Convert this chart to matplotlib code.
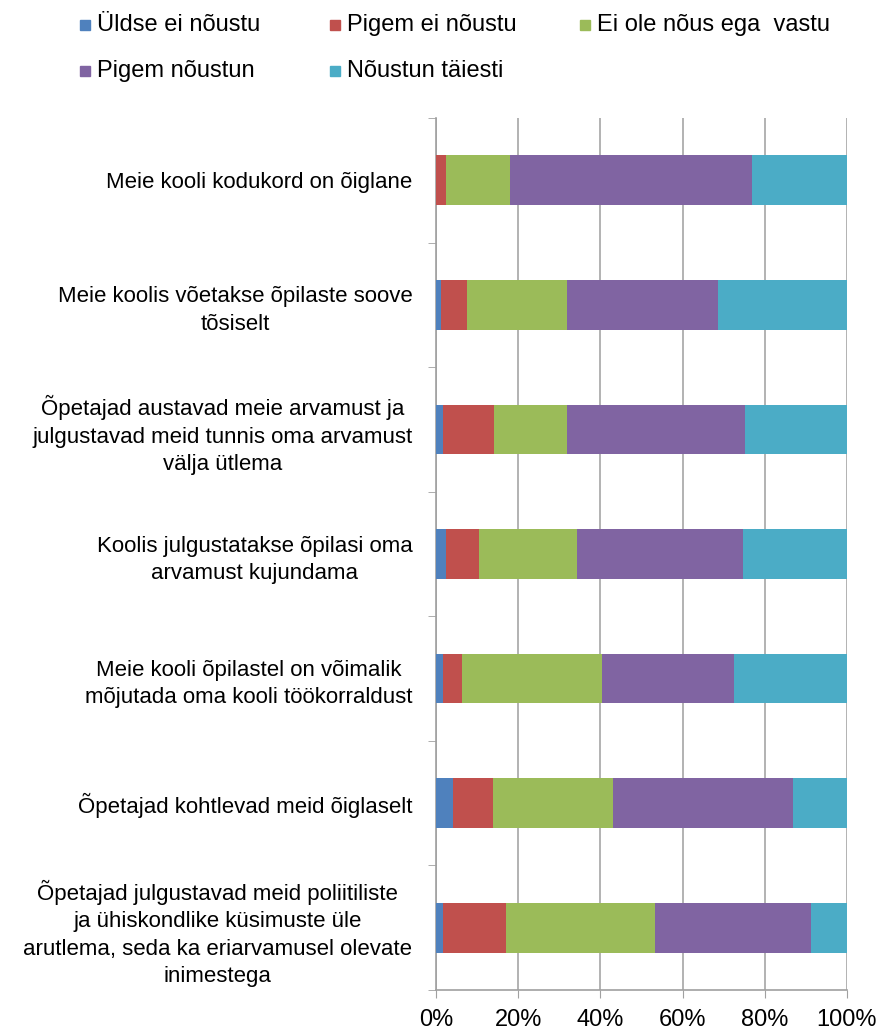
import matplotlib.pyplot as plt
from matplotlib.patches import Rectangle
import numpy as np

plt.rcParams['font.family'] = ['Liberation Sans', 'DejaVu Sans']

statements = [
    "Meie kooli kodukord on õiglane",
    "Meie koolis võetakse õpilaste soove\ntõsiselt",
    "Õpetajad austavad meie arvamust ja\njulgustavad meid tunnis oma arvamust\nvälja ütlema",
    "Koolis julgustatakse õpilasi oma\narvamust kujundama",
    "Meie kooli õpilastel on võimalik\nmõjutada oma kooli töökorraldust",
    "Õpetajad kohtlevad meid õiglaselt",
    "Õpetajad julgustavad meid poliitiliste\nja ühiskondlike küsimuste üle\narutlema, seda ka eriarvamusel olevate\ninimestega",
]

series_names = ["Üldse ei nõustu", "Pigem ei nõustu", "Ei ole nõus ega  vastu",
                "Pigem nõustun", "Nõustun täiesti"]

yldse_ei = [0.0, 1.3, 1.7, 2.5, 1.7, 4.1, 1.7]
pigem_ei = [2.5, 6.2, 12.3, 8.0, 4.7, 9.7, 15.3]
neutraalne = [15.4, 24.3, 17.8, 23.9, 34.0, 29.3, 36.2]
pigem_jah = [59.1, 36.7, 43.5, 40.2, 32.0, 43.8, 38.0]
taiesti = [23.0, 31.5, 24.7, 25.3, 27.7, 13.1, 8.8]

colors = ["#4F81BD", "#C0504D", "#9BBB59", "#8064A2", "#4BACC6"]

W, H = 879, 1032
fig = plt.figure(figsize=(W / 100, H / 100), dpi=100)
ax = fig.add_axes([436 / W, 42 / H, 411 / W, 872 / H])

y = np.arange(len(statements))
left = np.zeros(len(statements))
for vals, col, name in zip([yldse_ei, pigem_ei, neutraalne, pigem_jah, taiesti], colors, series_names):
    ax.barh(y, vals, left=left, height=0.4, color=col, label=name, zorder=3)
    left += np.array(vals)

ax.set_xlim(0, 100)
ax.set_ylim(len(statements) - 0.5, -0.5)
ax.set_xticks(np.arange(0, 101, 20))
ax.set_xticklabels([f"{v}%" for v in range(0, 101, 20)], fontsize=17)
ax.set_yticks(y)
ax.set_yticklabels(statements, fontsize=16, multialignment='center', linespacing=1.4)
ax.tick_params(axis='y', length=0, pad=17)
ax.tick_params(axis='x', length=6, color='#A0A0A0', pad=8)

# category dividers as minor ticks on y
ax.set_yticks(np.arange(-0.5, len(statements), 1), minor=True)
ax.tick_params(axis='y', which='minor', length=6, color='#A0A0A0')

ax.grid(axis='x', color='#A6A6A6', linewidth=1.2, zorder=0)
for s in ['top', 'right']:
    ax.spines[s].set_visible(False)
for s in ['left', 'bottom']:
    ax.spines[s].set_color('#A0A0A0')
    ax.spines[s].set_linewidth(1.2)

# legend laid out in a 3-column grid like the original
leg_cols = [80, 330, 580]
leg_rows = [25, 71]
for i, (name, col) in enumerate(zip(series_names, colors)):
    lx = leg_cols[i % 3]
    ly = leg_rows[i // 3]
    fig.add_artist(Rectangle((lx / W, 1 - (ly + 5) / H), 10 / W, 10 / H,
                             transform=fig.transFigure, color=col))
    fig.text((lx + 17) / W, 1 - ly / H, name, fontsize=17, va='center', ha='left')

fig.savefig("out.png", dpi=100)
